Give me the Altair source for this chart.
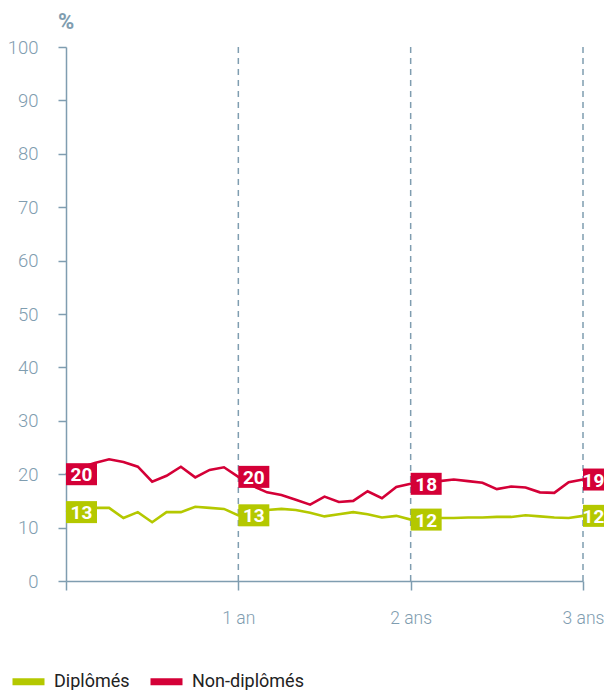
import altair as alt
import pandas as pd

# ---- data ----
months = list(range(37))
diplomes = [12.9, 13.4, 13.7, 13.7, 11.8, 12.9, 11.0, 12.9, 12.9, 13.9, 13.7, 13.5, 12.3,
            13.0, 13.3, 13.5, 13.3, 12.8, 12.1, 12.5, 12.9, 12.5, 11.9, 12.2, 11.5,
            11.7, 11.8, 11.8, 11.9, 11.9, 12.0, 12.0, 12.3, 12.1, 11.9, 11.8, 12.2]
non_diplomes = [20.0, 21.2, 22.1, 22.8, 22.3, 21.4, 18.6, 19.7, 21.4, 19.4, 20.8, 21.3, 19.5,
                17.8, 16.6, 16.1, 15.2, 14.3, 15.8, 14.8, 15.0, 16.8, 15.5, 17.6, 18.2,
                18.5, 18.7, 19.0, 18.7, 18.4, 17.2, 17.7, 17.5, 16.6, 16.5, 18.5, 19.0]
label_months = [0, 12, 24, 36]
label_diplomes = [13, 13, 12, 12]
label_non_diplomes = [20, 20, 18, 19]
tick_values = [12, 24, 36]
tick_labels = ["1 an", "2 ans", "3 ans"]
series = ["Diplômés", "Non-diplômés"]
colors = ["#b4c800", "#d40037"]
unit_label = "%"

AXIS = "#7f9db0"
FONT = "Roboto"

# ---- tables ----
lines_df = pd.DataFrame({
    "mois": months * 2,
    "valeur": diplomes + non_diplomes,
    "serie": [series[0]] * len(months) + [series[1]] * len(months),
})
lab_rows = []
for m, ld, ln in zip(label_months, label_diplomes, label_non_diplomes):
    lab_rows.append({"mois": m, "valeur": diplomes[months.index(m)], "texte": str(ld), "serie": series[0]})
    lab_rows.append({"mois": m, "valeur": non_diplomes[months.index(m)], "texte": str(ln), "serie": series[1]})
labels_df = pd.DataFrame(lab_rows)
rules_df = pd.DataFrame({"mois": tick_values})
unit_df = pd.DataFrame({"mois": [0], "valeur": [100], "texte": [unit_label]})

label_expr = " : ".join(
    [f"datum.value == {v} ? '{t}'" for v, t in zip(tick_values, tick_labels)]
) + " : ''"

x_scale = alt.Scale(domain=[0, 36], nice=False, zero=False)
y_scale = alt.Scale(domain=[0, 100], nice=False)
color_scale = alt.Scale(domain=series, range=colors)

x_enc = alt.X("mois:Q", scale=x_scale, axis=alt.Axis(
    values=[0] + tick_values, labelExpr=label_expr, title=None, grid=False,
    tickSize=9, labelPadding=19, labelAlign="center", labelFontSize=17.5))
y_enc = alt.Y("valeur:Q", scale=y_scale, axis=alt.Axis(
    values=list(range(0, 101, 10)), title=None,
    grid=False, tickSize=8, labelPadding=20, labelFontSize=18.5))

rules = alt.Chart(rules_df).mark_rule(
    color=AXIS, strokeDash=[6, 5], strokeWidth=1.5
).encode(x=x_enc, y=alt.value(0), y2=alt.value(534))

lines = alt.Chart(lines_df).mark_line(strokeWidth=2.6).encode(
    x=x_enc, y=y_enc,
    color=alt.Color("serie:N", scale=color_scale, legend=alt.Legend(
        title=None, orient="none", legendX=-57, legendY=615, direction="horizontal",
        symbolType="stroke", symbolStrokeWidth=7, symbolSize=1024,
        labelFont=FONT, labelFontSize=18, labelColor="#222222",
        labelOffset=6, columnPadding=6)),
)

boxes = alt.Chart(labels_df).mark_point(
    shape="M0,-0.71L2,-0.71L2,0.71L0,0.71Z", size=961, filled=True, opacity=1, strokeWidth=0
).encode(
    x=x_enc, y=y_enc,
    fill=alt.Fill("serie:N", scale=color_scale, legend=None),
)

text_style = dict(color="white", font=FONT, fontSize=19, fontWeight="bold", dy=1,
                  align="center", baseline="middle")
texts = alt.Chart(labels_df).transform_filter(
    alt.datum.mois < 36
).mark_text(dx=15.5, **text_style).encode(x=x_enc, y=y_enc, text="texte:N")
texts_end = alt.Chart(labels_df).transform_filter(
    alt.datum.mois >= 36
).mark_text(dx=10.5, **text_style).encode(x=x_enc, y=y_enc, text="texte:N")

unit = alt.Chart(unit_df).mark_text(
    color=AXIS, font=FONT, fontSize=22, fontWeight="bold", dy=-25.5,
    align="center", baseline="middle"
).encode(x=x_enc, y=y_enc, text="texte:N")

chart = alt.layer(rules, lines, boxes, texts, texts_end, unit).resolve_scale(
    color="independent", fill="independent"
).properties(
    width=517, height=534,
    autosize=alt.AutoSizeParams(type="none"),
    padding={"left": 58, "top": 39, "right": 21, "bottom": 109},
).configure_view(stroke=None).configure_axis(
    domainColor=AXIS, tickColor=AXIS, labelColor=AXIS, domainWidth=1.5, tickWidth=1.5,
    labelFont=FONT, labelFontWeight=300,
)

chart.save("out.html", embed_options={"renderer": "svg", "actions": False})
